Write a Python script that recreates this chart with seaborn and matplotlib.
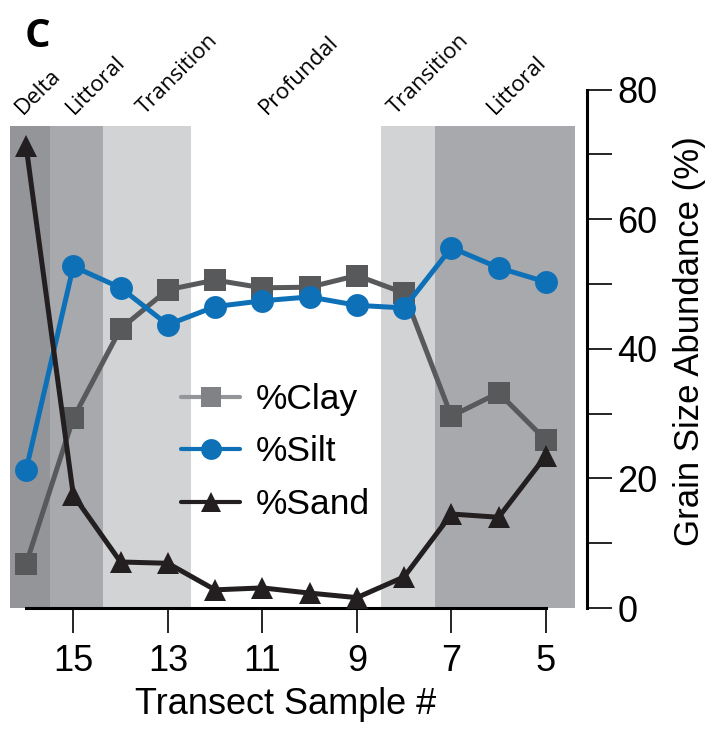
import numpy as np
import pandas as pd
import matplotlib
matplotlib.use("Agg")
import matplotlib.pyplot as plt
from matplotlib.lines import Line2D
import seaborn as sns

# transect samples and grain size fractions (%)
samples = [16, 15, 14, 13, 12, 11, 10, 9, 8, 7, 6, 5]
clay = [6.8, 29.3, 43.1, 49.1, 50.6, 49.4, 49.5, 51.3, 48.6, 29.6, 33.2, 25.9]
silt = [21.3, 52.7, 49.4, 43.7, 46.5, 47.4, 48.0, 46.7, 46.3, 55.6, 52.5, 50.3]
sand = [71.3, 17.4, 7.1, 6.9, 2.8, 3.1, 2.3, 1.6, 4.8, 14.5, 14.0, 23.5]

# depositional zones (x edges in sample units)
zone_names = ["Delta", "Littoral", "Transition", "Profundal", "Transition", "Littoral"]
zone_edges = [16.34, 15.49, 14.38, 12.52, 8.49, 7.35, 4.39]
zone_colors = ["#939598", "#a7a9ac", "#d1d3d4", "#ffffff", "#d1d3d4", "#a7a9ac"]
zone_label_x = [16.0, 14.92, 13.42, 10.82, 8.11, 6.0]
zone_top = 74.4

df = pd.DataFrame({"sample": samples, "clay": clay, "silt": silt, "sand": sand})

sns.set_style("white")
plt.rcParams["font.family"] = ["Liberation Sans", "DejaVu Sans"]
plt.rcParams["text.color"] = "black"
plt.rcParams["axes.labelcolor"] = "black"

fig = plt.figure(figsize=(7.13, 7.29), dpi=100)
ax = fig.add_axes([10 / 713, 1 - 608 / 729, 577 / 713, 518.5 / 729])

# background zones
for i in range(len(zone_names)):
    ax.axvspan(zone_edges[i], zone_edges[i + 1], ymin=0, ymax=zone_top / 80,
               color=zone_colors[i], lw=0, zorder=0)
    ax.text(zone_label_x[i], 75.5, zone_names[i], rotation=45, rotation_mode="anchor",
            ha="left", va="bottom", fontsize=16, family=["Open Sans", "DejaVu Sans"])

clay_c, silt_c, sand_c = "#58595b", "#0e71b8", "#231f20"
sns.lineplot(data=df, x="sample", y="clay", ax=ax, color=clay_c, lw=3.6,
             marker="s", markersize=15.5, mec=clay_c, mew=0, zorder=3)
sns.lineplot(data=df, x="sample", y="silt", ax=ax, color=silt_c, lw=3.6,
             marker="o", markersize=16.5, mec=silt_c, mew=0, zorder=4)
sns.lineplot(data=df, x="sample", y="sand", ax=ax, color=sand_c, lw=3.6,
             marker="^", markersize=16, mec=sand_c, mew=0, zorder=5)

ax.set_xlim(16.34, 4.13)
ax.set_ylim(0, 80)
ax.set_facecolor("none")

for s in ["left", "top"]:
    ax.spines[s].set_visible(False)
ax.spines["bottom"].set_bounds(16, 5)
for s in ["bottom", "right"]:
    ax.spines[s].set_linewidth(2.2)
    ax.spines[s].set_color("black")

ax.set_xticks([15, 13, 11, 9, 7, 5])
ax.set_xticklabels(["15", "13", "11", "9", "7", "5"])
ax.yaxis.tick_right()
ax.yaxis.set_label_position("right")
ax.set_yticks([0, 20, 40, 60, 80])
ax.set_yticks([10, 30, 50, 70], minor=True)
ax.tick_params(axis="x", direction="out", length=18, width=1.2, pad=8,
               labelsize=26, bottom=True, colors="black")
ax.tick_params(axis="y", which="both", direction="out", length=18, width=1.2,
               pad=4, labelsize=26, right=True, left=False, colors="black")

ax.set_xlabel("Transect Sample #", fontsize=26)
ax.xaxis.set_label_coords((286 - 10) / 577, -0.152)
ax.set_ylabel("Grain Size Abundance (%)", fontsize=25)
ax.yaxis.set_label_coords((673 - 10) / 577, (608 - 341) / 518.5)

handles = [
    Line2D([], [], color="#939598", lw=3, marker="s", markersize=14,
           mfc="#808285", mec="#808285", mew=0),
    Line2D([], [], color=silt_c, lw=3, marker="o", markersize=15,
           mfc=silt_c, mec=silt_c, mew=0),
    Line2D([], [], color=sand_c, lw=3, marker="^", markersize=14,
           mfc=sand_c, mec=sand_c, mew=0),
]
ax.legend(handles, ["%Clay", "%Silt", "%Sand"], loc="upper left",
          bbox_to_anchor=((181 - 10) / 577, (608 - 383) / 518.5),
          frameon=False, fontsize=25.5, handlelength=1.67, handletextpad=0.45,
          labelspacing=0.55, borderaxespad=0, borderpad=0)

fig.text(25 / 713, 1 - 47 / 729, "C", fontsize=29, fontweight="bold",
         family=["Open Sans", "DejaVu Sans"], ha="left", va="baseline")

fig.savefig("out.png", dpi=100)
